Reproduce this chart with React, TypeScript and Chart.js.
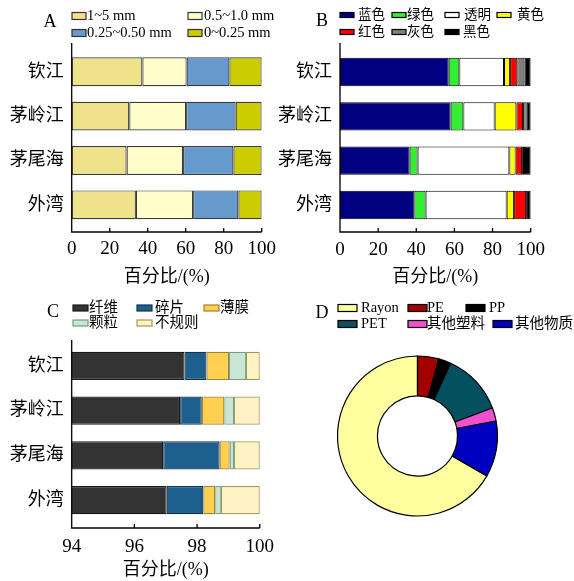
import React, { useEffect, useRef } from 'react';
import { Chart, registerables } from 'chart.js';

Chart.register(...registerables);

// ---------------- data ----------------
const categories = ['钦江', '茅岭江', '茅尾海', '外湾'];

// A: size classes (%)
const sizeLabels = ['1~5 mm', '0.5~1.0 mm', '0.25~0.50 mm', '0~0.25 mm'];
const size1to5 = [37.2, 30.3, 28.9, 33.8];
const size05to1 = [23.3, 29.9, 29.7, 30.1];
const size025to05 = [22.5, 26.1, 26.5, 23.8];
const size0to025 = [17.0, 13.7, 14.9, 12.3];

// B: colours (%)
const colourLabels = ['蓝色', '绿色', '透明', '黄色', '红色', '灰色', '黑色'];
const blueVals = [57.0, 58.0, 36.5, 39.0];
const greenVals = [5.6, 6.7, 4.2, 5.9];
const clearVals = [23.4, 16.4, 48.1, 42.5];
const yellowVals = [3.2, 11.4, 3.3, 3.9];
const redVals = [3.8, 3.5, 3.4, 6.3];
const grayVals = [3.7, 1.9, 1.0, null];
const blackVals = [3.3, 2.1, 3.5, 2.4];

// C: shapes (%)
const shapeLabels = ['纤维', '碎片', '薄膜', '颗粒', '不规则'];
const fiberVals = [97.6, 97.46, 96.92, 97.03];
const fragmentVals = [0.7, 0.69, 1.8, 1.17];
const filmVals = [0.72, 0.72, 0.32, 0.38];
const pelletVals = [0.54, 0.31, 0.14, 0.18];
const irregularVals = [0.44, 0.82, 0.82, 1.24];

// D: polymer types (%)
const polymerLabels = ['Rayon', 'PE', 'PP', 'PET', '其他塑料', '其他物质'];
const polymerVals = [66.7, 4.3, 2.5, 12.5, 2.7, 11.3];

const xTicksPct = [0, 100, 20];
const xTicksShape = [94, 100, 2];

// ---------------- styles ----------------
const FONT = "'Liberation Serif', 'Times New Roman', 'Noto Sans CJK SC', serif";
const AXIS_TITLE = '百分比/(%)';

const sizeFill = ['#EEE28A', '#FFFDC9', '#6699CC', '#CCCC00'];
const colourFill = ['#000080', '#33EE33', '#FFFFFF', '#FFFF00', '#FF0000', '#7F7F7F', '#000000'];
const shapeFill = ['#333333', '#1D5F8D', '#FFD050', '#C8E6D2', '#FFF2C4'];
const shapeBorder = ['#1A1A1A', '#10334F', '#A08030', '#6F9E8A', '#A09A50'];
const polymerFill = ['#FFFFA0', '#A00000', '#000000', '#05505F', '#F050D0', '#0000C0'];

type LegendPos = { bx: number; y: number; tx: number };
interface DecoCfg {
  letter: string;
  lx: number;
  ly: number;
  legendFont: number;
  boxW: number;
  boxH: number;
  items: { label: string; fill: string; stroke: string; pos: LegendPos }[];
  axes?: { extTop: number; extBottom: number };
}

function decoPlugin(cfg: DecoCfg) {
  return {
    id: 'deco',
    afterDraw(chart: any) {
      const ctx = chart.ctx as CanvasRenderingContext2D;
      ctx.save();
      ctx.fillStyle = '#000';
      ctx.font = `18px ${FONT}`;
      ctx.textAlign = 'center';
      ctx.textBaseline = 'middle';
      ctx.fillText(cfg.letter, cfg.lx, cfg.ly);
      ctx.font = `${cfg.legendFont}px ${FONT}`;
      ctx.textAlign = 'left';
      for (const it of cfg.items) {
        const { bx, y, tx } = it.pos;
        ctx.fillStyle = it.fill;
        ctx.fillRect(bx, y - cfg.boxH / 2, cfg.boxW, cfg.boxH);
        ctx.strokeStyle = it.stroke;
        ctx.lineWidth = 1.2;
        ctx.strokeRect(bx, y - cfg.boxH / 2, cfg.boxW, cfg.boxH);
        ctx.fillStyle = '#000';
        ctx.fillText(it.label, tx, y + 0.5);
      }
      if (cfg.axes) {
        const ca = chart.chartArea;
        const xs = chart.scales.x;
        const yTop = ca.top - cfg.axes.extTop;
        const yBot = ca.bottom + cfg.axes.extBottom;
        ctx.strokeStyle = '#000';
        ctx.lineWidth = 1.3;
        ctx.beginPath();
        ctx.moveTo(ca.left, yTop);
        ctx.lineTo(ca.left, yBot);
        ctx.lineTo(ca.right, yBot);
        for (const t of xs.ticks) {
          const px = xs.getPixelForValue(t.value);
          ctx.moveTo(px, yBot);
          ctx.lineTo(px, yBot - 4);
        }
        ctx.stroke();
      }
      ctx.restore();
    },
  };
}

interface BarPanelCfg {
  datasets: any[];
  ticks: number[];
  pad: { left: number; right: number; top: number };
  yWidth: number;
  xHeight: number;
  tickPad: number;
  titlePadBottom: number;
  catPct: number;
  deco: DecoCfg;
}

function barConfig(c: BarPanelCfg): any {
  return {
    type: 'bar',
    data: { labels: categories, datasets: c.datasets },
    plugins: [decoPlugin(c.deco)],
    options: {
      indexAxis: 'y',
      responsive: false,
      animation: false,
      events: [],
      layout: { padding: { left: c.pad.left, right: c.pad.right, top: c.pad.top, bottom: 0 } },
      datasets: { bar: { categoryPercentage: c.catPct, barPercentage: 1, borderSkipped: false } },
      plugins: { legend: { display: false }, tooltip: { enabled: false } },
      scales: {
        x: {
          stacked: true,
          min: c.ticks[0],
          max: c.ticks[1],
          grid: { display: false, drawTicks: false },
          border: { display: false },
          ticks: {
            stepSize: c.ticks[2],
            color: '#000',
            font: { family: FONT, size: 19 },
            padding: c.tickPad,
            maxRotation: 0,
            autoSkip: false,
          },
          title: {
            display: true,
            text: AXIS_TITLE,
            color: '#000',
            font: { family: FONT, size: 18 },
            padding: { top: 0, bottom: c.titlePadBottom },
          },
          afterFit: (s: any) => {
            s.height = c.xHeight;
          },
        },
        y: {
          stacked: true,
          grid: { display: false, drawTicks: false },
          border: { display: false },
          ticks: { color: '#000', font: { family: FONT, size: 18 }, padding: 8, autoSkip: false },
          afterFit: (s: any) => {
            s.width = c.yWidth;
          },
        },
      },
    },
  };
}

function makeA() {
  const vals = [size1to5, size05to1, size025to05, size0to025];
  const pos: LegendPos[] = [
    { bx: 72, y: 16, tx: 87 },
    { bx: 188, y: 16, tx: 204 },
    { bx: 72, y: 33, tx: 87 },
    { bx: 188, y: 33, tx: 204 },
  ];
  return barConfig({
    datasets: vals.map((d, i) => ({
      label: sizeLabels[i],
      data: d,
      backgroundColor: sizeFill[i],
      borderColor: '#3a3a3a',
      borderWidth: 1.2,
    })),
    ticks: xTicksPct,
    pad: { left: 0, right: 25.3, top: 49.6 },
    yWidth: 71.7,
    xHeight: 63,
    tickPad: 11,
    titlePadBottom: 2.4,
    catPct: 0.65,
    deco: {
      letter: 'A',
      lx: 50,
      ly: 22,
      legendFont: 14.5,
      boxW: 14,
      boxH: 7,
      items: sizeLabels.map((l, i) => ({ label: l, fill: sizeFill[i], stroke: '#333', pos: pos[i] })),
      axes: { extTop: 6.6, extBottom: 5 },
    },
  });
}

function makeB() {
  const vals = [blueVals, greenVals, clearVals, yellowVals, redVals, grayVals, blackVals];
  const pos: LegendPos[] = [
    { bx: 75, y: 15, tx: 93 },
    { bx: 127, y: 15, tx: 142 },
    { bx: 180, y: 15, tx: 199 },
    { bx: 232, y: 15, tx: 252 },
    { bx: 75, y: 32, tx: 93 },
    { bx: 127, y: 32, tx: 142 },
    { bx: 180, y: 32, tx: 198 },
  ];
  return barConfig({
    datasets: vals.map((d, i) => ({
      label: colourLabels[i],
      data: d,
      backgroundColor: colourFill[i],
      borderColor: '#000',
      borderWidth: 1,
    })),
    ticks: xTicksPct,
    pad: { left: 0, right: 43.3, top: 49.8 },
    yWidth: 75,
    xHeight: 62.8,
    tickPad: 11,
    titlePadBottom: 2.4,
    catPct: 0.64,
    deco: {
      letter: 'B',
      lx: 57,
      ly: 21,
      legendFont: 13.5,
      boxW: 14,
      boxH: 5,
      items: colourLabels.map((l, i) => ({ label: l, fill: colourFill[i], stroke: '#000', pos: pos[i] })),
      axes: { extTop: 6.8, extBottom: 4.8 },
    },
  });
}

function makeC() {
  const vals = [fiberVals, fragmentVals, filmVals, pelletVals, irregularVals];
  const pos: LegendPos[] = [
    { bx: 73, y: 18, tx: 89 },
    { bx: 137, y: 18, tx: 155 },
    { bx: 204, y: 18, tx: 220 },
    { bx: 73, y: 33, tx: 89 },
    { bx: 137, y: 33, tx: 155 },
  ];
  return barConfig({
    datasets: vals.map((d, i) => ({
      label: shapeLabels[i],
      data: d,
      backgroundColor: shapeFill[i],
      borderColor: shapeBorder[i],
      borderWidth: 1.2,
      clip: { left: 0, right: 4, top: 4, bottom: 4 },
    })),
    ticks: xTicksShape,
    pad: { left: 0, right: 25.3, top: 53.6 },
    yWidth: 71.7,
    xHeight: 58.6,
    tickPad: 13,
    titlePadBottom: 0,
    catPct: 0.63,
    deco: {
      letter: 'C',
      lx: 53,
      ly: 22,
      legendFont: 14.5,
      boxW: 15,
      boxH: 6,
      items: shapeLabels.map((l, i) => ({ label: l, fill: shapeFill[i], stroke: shapeBorder[i], pos: pos[i] })),
      axes: { extTop: 3.6, extBottom: 5.6 },
    },
  });
}

function makeD(): any {
  const pos: LegendPos[] = [
    { bx: 51, y: 18, tx: 74 },
    { bx: 121, y: 18, tx: 140 },
    { bx: 179, y: 18, tx: 202 },
    { bx: 51, y: 34, tx: 74 },
    { bx: 121, y: 34, tx: 140 },
    { bx: 206, y: 34, tx: 228 },
  ];
  const rayonShare = polymerVals[0] / polymerVals.reduce((a, b) => a + b, 0);
  return {
    type: 'doughnut',
    data: {
      labels: polymerLabels,
      datasets: [
        {
          data: polymerVals,
          backgroundColor: polymerFill,
          borderColor: '#000',
          borderWidth: 1.2,
        },
      ],
    },
    plugins: [
      decoPlugin({
        letter: 'D',
        lx: 35,
        ly: 23,
        legendFont: 14.5,
        boxW: 19,
        boxH: 7,
        items: polymerLabels.map((l, i) => ({ label: l, fill: polymerFill[i], stroke: '#000', pos: pos[i] })),
      }),
    ],
    options: {
      responsive: false,
      animation: false,
      events: [],
      radius: 80,
      cutout: 40,
      rotation: -rayonShare * 360,
      layout: { padding: { left: 50, right: 76, top: 65.5, bottom: 64.5 } },
      plugins: { legend: { display: false }, tooltip: { enabled: false } },
    },
  };
}

function ChartPanel(props: { left: number; top: number; width: number; height: number; make: () => any }) {
  const ref = useRef<HTMLCanvasElement>(null);
  useEffect(() => {
    const chart = new Chart(ref.current as HTMLCanvasElement, props.make());
    return () => chart.destroy();
  }, []);
  return (
    <canvas
      ref={ref}
      width={props.width}
      height={props.height}
      style={{ position: 'absolute', left: props.left, top: props.top, width: props.width, height: props.height }}
    />
  );
}

export default function App() {
  return (
    <div style={{ position: 'fixed', left: 0, top: 0, width: 574, height: 581, background: '#fff', overflow: 'hidden' }}>
      <ChartPanel left={0} top={0} width={287} height={290} make={makeA} />
      <ChartPanel left={265} top={0} width={309} height={290} make={makeB} />
      <ChartPanel left={0} top={290} width={287} height={291} make={makeC} />
      <ChartPanel left={287} top={290} width={287} height={291} make={makeD} />
    </div>
  );
}
